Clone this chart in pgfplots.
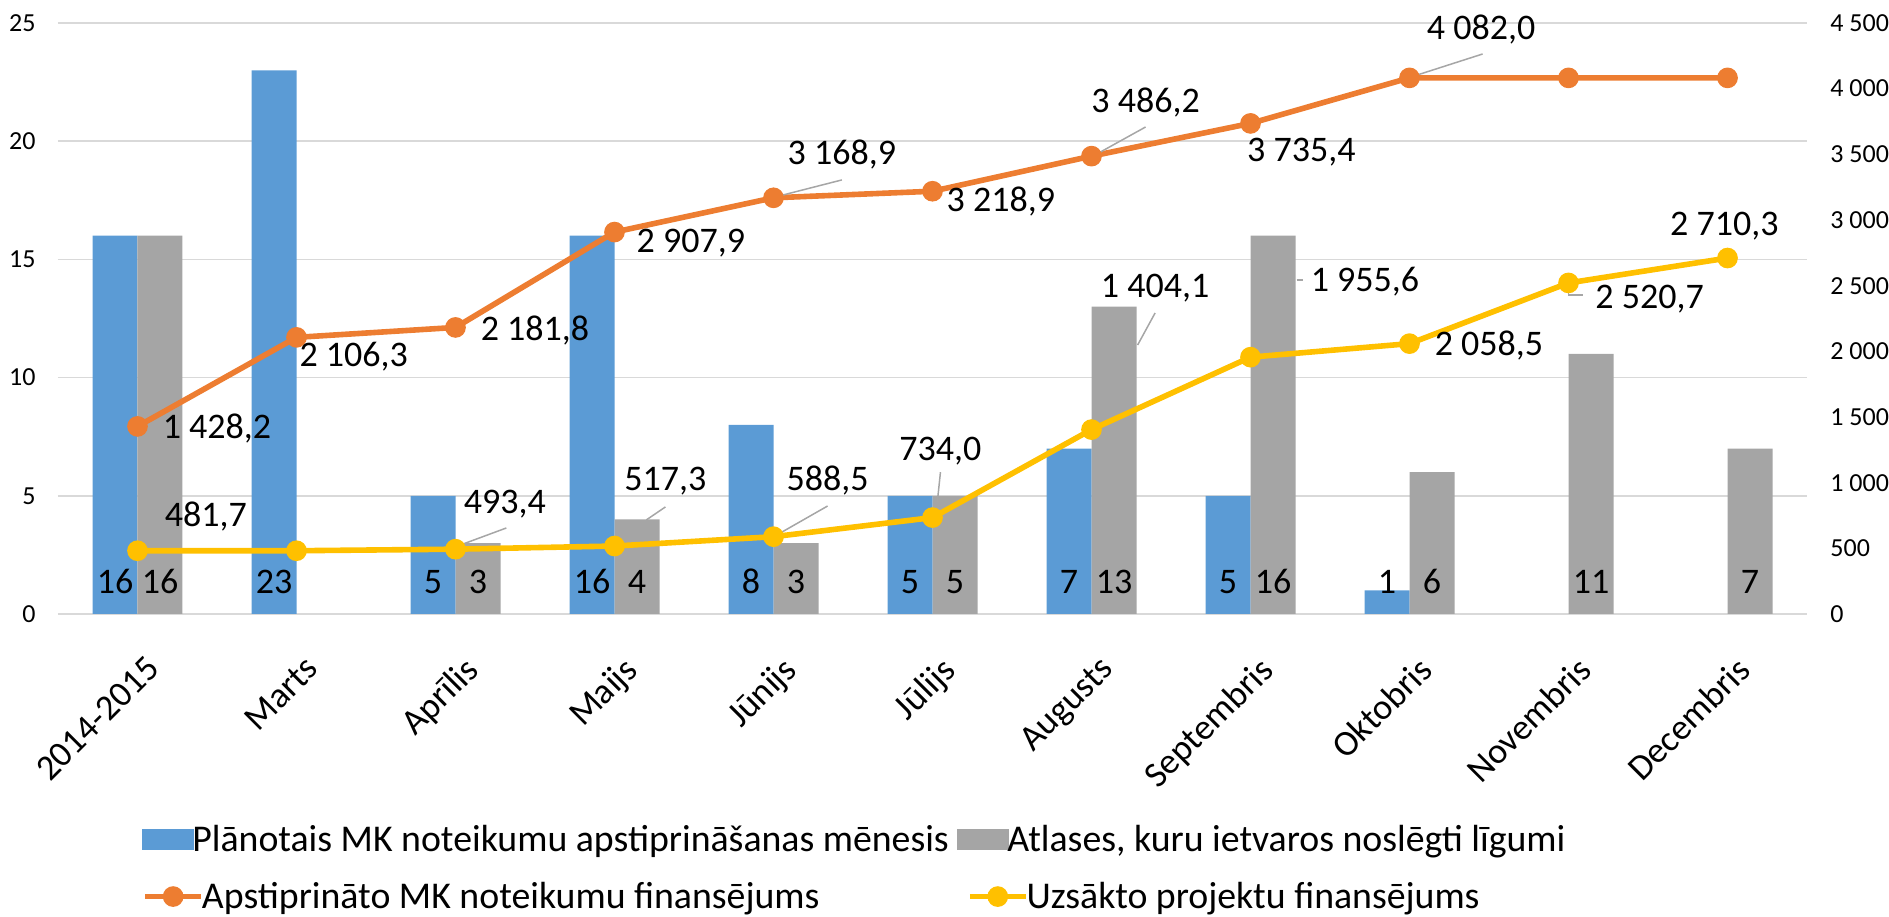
\documentclass[border=0pt]{standalone}
\usepackage{fontspec}
\setmainfont{Carlito}
\usepackage{pgfplots}
\pgfplotsset{compat=1.18}

\definecolor{cblue}{HTML}{5B9BD5}
\definecolor{cgray}{HTML}{A5A5A5}
\definecolor{corange}{HTML}{ED7D31}
\definecolor{cyellow}{HTML}{FFC000}
\definecolor{cgrid}{HTML}{D9D9D9}
\definecolor{clead}{HTML}{A6A6A6}
\newcommand{\lab}{\fontsize{18}{21.6}\selectfont}
\newcommand{\leg}{\fontsize{18.9}{22}\selectfont}
\newcommand{\tck}{\fontsize{13}{15.6}\selectfont}
\newcommand{\col}[1]{\makebox[377pt][l]{#1}}

\pgfplotsset{
  frame/.style={width=874.5pt, height=295.5pt, scale only axis,
    xmin=-0.5, xmax=10.5, clip=false,
    axis line style={draw=none}, tick style={draw=none}},
  lbl/.style={forget plot, draw=none, mark=none, nodes near coords,
    point meta=explicit symbolic,
    every node near coord/.append style={font=\lab, anchor=center, inner sep=0pt, text=black}},
  lead/.style={forget plot, clead, line width=0.75pt, mark=none},
  lineleg/.style={legend image code/.code={%
    \draw[mark repeat=2, mark phase=2, ##1] plot coordinates {(0pt,0pt)(14pt,0pt)(28pt,0pt)};}},
  boxleg/.style={legend image code/.code={\fill[#1] (0pt,-5pt) rectangle (26pt,5.5pt);}},
  legrow/.style={legend columns=2, legend cell align=left,
    legend style={at={(0.048,#1)}, anchor=north west, draw=none, fill=none,
      font=\leg, inner sep=0pt, nodes={inner sep=0.5pt},
      /tikz/every odd column/.append style={column sep=-1.5pt},
      /tikz/every even column/.append style={column sep=5pt}}},
}

\begin{document}
\begin{tikzpicture}
% left axis: bars
\begin{axis}[frame, legrow=-0.355,
  ymin=0, ymax=25,
  ytick={0,5,10,15,20,25}, yticklabels={0,5,10,15,20,25},
  ymajorgrids, grid style={cgrid, line width=0.75pt},
  yticklabel style={font=\tck, anchor=east, inner sep=0pt, xshift=-11pt},
  xtick={0,1,2,3,4,5,6,7,8,9,10},
  xticklabels={2014-2015,Marts,Aprīlis,Maijs,Jūnijs,Jūlijs,Augusts,Septembris,Oktobris,Novembris,Decembris},
  xticklabel style={font=\lab, xshift=3.5pt, yshift=-20pt, rotate=45, anchor=north east, inner sep=0pt},
]
\coordinate (bl) at (rel axis cs:0,0);
\coordinate (tr) at (rel axis cs:1,1);

\addplot[ybar, bar width=0.283, bar shift=-0.1415, fill=cblue, draw=none, boxleg=cblue]
  coordinates {(0,16)(1,23)(2,5)(3,16)(4,8)(5,5)(6,7)(7,5)(8,1)};
\addlegendentry{\col{Plānotais MK noteikumu apstiprināšanas mēnesis}}
\addplot[ybar, bar width=0.283, bar shift=0.1415, fill=cgray, draw=none, boxleg=cgray]
  coordinates {(0,16)(2,3)(3,4)(4,3)(5,5)(6,13)(7,16)(8,6)(9,11)(10,7)};
\addlegendentry{Atlases, kuru ietvaros noslēgti līgumi}

\addplot[lbl] coordinates {(-0.1415,1.37)[16] (0.8585,1.37)[23] (1.8585,1.37)[5]
  (2.8585,1.37)[16] (3.8585,1.37)[8] (4.8585,1.37)[5] (5.8585,1.37)[7]
  (6.8585,1.37)[5] (7.8585,1.37)[1]};
\addplot[lbl] coordinates {(0.1415,1.37)[16] (2.1415,1.37)[3] (3.1415,1.37)[4]
  (4.1415,1.37)[3] (5.1415,1.37)[5] (6.1415,1.37)[13] (7.1415,1.37)[16]
  (8.1415,1.37)[6] (9.1415,1.37)[11] (10.1415,1.37)[7]};
\end{axis}

% right axis: lines
\begin{axis}[frame, legrow=-0.451,
  ymin=0, ymax=4500,
  axis y line*=right, hide x axis, y axis line style={draw=none},
  ytick={0,500,1000,1500,2000,2500,3000,3500,4000,4500},
  yticklabels={0,500,1 000,1 500,2 000,2 500,3 000,3 500,4 000,4 500},
  yticklabel style={font=\tck, anchor=west, inner sep=0pt, xshift=11.5pt},
]
\addplot[corange, line width=2.8pt, mark=*, mark size=3.75pt, lineleg]
  coordinates {(0,1428.2)(1,2106.3)(2,2181.8)(3,2907.9)(4,3168.9)(5,3218.9)
  (6,3486.2)(7,3735.4)(8,4082.0)(9,4082.0)(10,4082.0)};
\addlegendentry{\col{Apstiprināto MK noteikumu finansējums}}
\addplot[cyellow, line width=2.8pt, mark=*, mark size=3.75pt, lineleg]
  coordinates {(0,481.7)(1,481.7)(2,493.4)(3,517.3)(4,588.5)(5,734.0)
  (6,1404.1)(7,1955.6)(8,2058.5)(9,2520.7)(10,2710.3)};
\addlegendentry{Uzsākto projektu finansējums}

% leader lines
\addplot[lead] coordinates {(4.01,3175)(4.43,3305)};
\addplot[lead] coordinates {(6.0,3480)(6.34,3708)};
\addplot[lead] coordinates {(8.01,4089)(8.46,4264)};
\addplot[lead] coordinates {(2.03,525)(2.32,655)};
\addplot[lead] coordinates {(3.2,716)(3.32,815)};
\addplot[lead] coordinates {(4.02,601)(4.34,822)};
\addplot[lead] coordinates {(5.05,1080)(5.03,850)};
\addplot[lead] coordinates {(6.29,2048)(6.40,2292)};
\addplot[lead] coordinates {(7.29,2543)(7.33,2543)};
\addplot[lead] coordinates {(9.0,2520)(9.0,2429)(9.09,2429)};

% value labels
\addplot[lbl] coordinates {(0.50,1416)[1 428,2] (1.36,1957)[2 106,3]
  (2.50,2162)[2 181,8] (3.48,2825)[2 907,9] (4.43,3495)[3 168,9]
  (5.43,3137)[3 218,9] (6.34,3898)[3 486,2] (7.32,3518)[3 735,4]
  (8.45,4447)[4 082,0]};
\addplot[lbl] coordinates {(0.43,739)[481,7] (2.31,838)[493,4]
  (3.32,1013)[517,3] (4.34,1013)[588,5] (5.05,1241)[734,0]
  (6.40,2482)[1 404,1] (7.72,2528)[1 955,6] (8.50,2041)[2 058,5]
  (9.51,2398)[2 520,7] (9.98,2954)[2 710,3]};
\end{axis}
\pgfresetboundingbox
\path ([shift={(-29pt,-151.5pt)}]bl) rectangle ([shift={(41pt,11.5pt)}]tr);
\end{tikzpicture}
\end{document}
